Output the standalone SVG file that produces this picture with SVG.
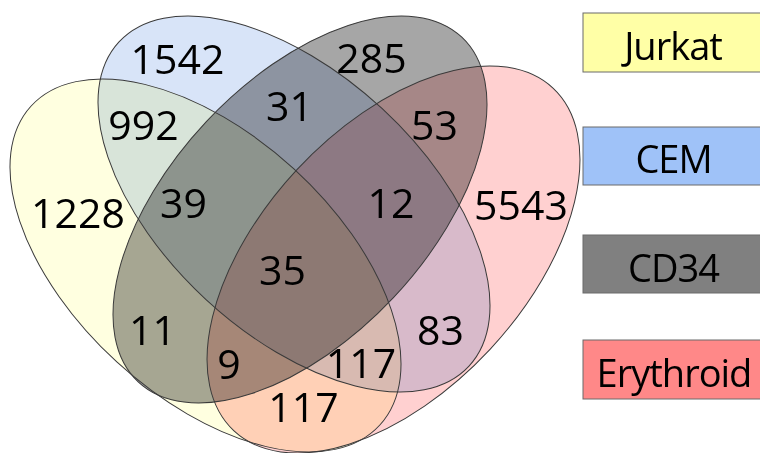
<svg xmlns="http://www.w3.org/2000/svg" width="760" height="453" viewBox="0 0 760 453">
<style>
.fill{mix-blend-mode:multiply;stroke:none}
.edge{fill:none;stroke:#3a3a3a;stroke-width:1}
text{font-family:"Open Sans","Liberation Sans",sans-serif;fill:#000;text-anchor:middle}
.num{font-size:41px}
.leg{font-size:38px;letter-spacing:-1px}
.box{stroke:#6a6a6a;stroke-width:1}
</style>
<rect width="760" height="453" fill="#fff"/>
<g id="sets">
<g id="jurkat"><ellipse class="fill" fill="#FFFFE0" cx="205.5" cy="265.5" rx="236.3" ry="131" transform="rotate(42.45 205.5 265.5)"/></g>
<g id="cem"><ellipse class="fill" fill="#D8E4F8" cx="294" cy="204" rx="238.5" ry="129.9" transform="rotate(42.8 294 204)"/></g>
<g id="cd34"><ellipse class="fill" fill="#A6A6A6" cx="300" cy="209.5" rx="236.4" ry="128.5" transform="rotate(-46.8 300 209.5)"/></g>
<g id="erythroid"><ellipse class="fill" fill="#FFD0D0" cx="393.5" cy="259.5" rx="234.1" ry="131.9" transform="rotate(-47.05 393.5 259.5)"/></g>
</g>
<g id="outlines">
<ellipse class="edge" cx="205.5" cy="265.5" rx="236.3" ry="131" transform="rotate(42.45 205.5 265.5)"/>
<ellipse class="edge" cx="294" cy="204" rx="238.5" ry="129.9" transform="rotate(42.8 294 204)"/>
<ellipse class="edge" cx="300" cy="209.5" rx="236.4" ry="128.5" transform="rotate(-46.8 300 209.5)"/>
<ellipse class="edge" cx="393.5" cy="259.5" rx="234.1" ry="131.9" transform="rotate(-47.05 393.5 259.5)"/>
</g>
<g id="counts" class="num">
<text class="num" x="177.5" y="74">1542</text>
<text class="num" x="371.5" y="73">285</text>
<text class="num" x="143.5" y="140">992</text>
<text class="num" x="289.5" y="121">31</text>
<text class="num" x="434.5" y="140">53</text>
<text class="num" x="78" y="228">1228</text>
<text class="num" x="183.5" y="218">39</text>
<text class="num" x="391" y="218">12</text>
<text class="num" x="521" y="220">5543</text>
<text class="num" x="282.5" y="285">35</text>
<text class="num" x="152.5" y="345">11</text>
<text class="num" x="440.5" y="345">83</text>
<text class="num" x="229" y="379">9</text>
<text class="num" x="361" y="378">117</text>
<text class="num" x="303.5" y="422">117</text>
</g>
<g id="legend-jurkat"><rect class="box" x="583" y="13" width="182" height="59" fill="#FFFFA6"/><text class="leg" x="673" y="60">Jurkat</text></g>
<g id="legend-cem"><rect class="box" x="583" y="127" width="182" height="58" fill="#9FC2F8"/><text class="leg" x="673.5" y="173">CEM</text></g>
<g id="legend-cd34"><rect class="box" x="583" y="235" width="182" height="58" fill="#808080"/><text class="leg" x="673.5" y="282">CD34</text></g>
<g id="legend-erythroid"><rect class="box" x="583" y="340" width="182" height="59" fill="#FF8888"/><text class="leg" x="674" y="387">Erythroid</text></g>
</svg>
